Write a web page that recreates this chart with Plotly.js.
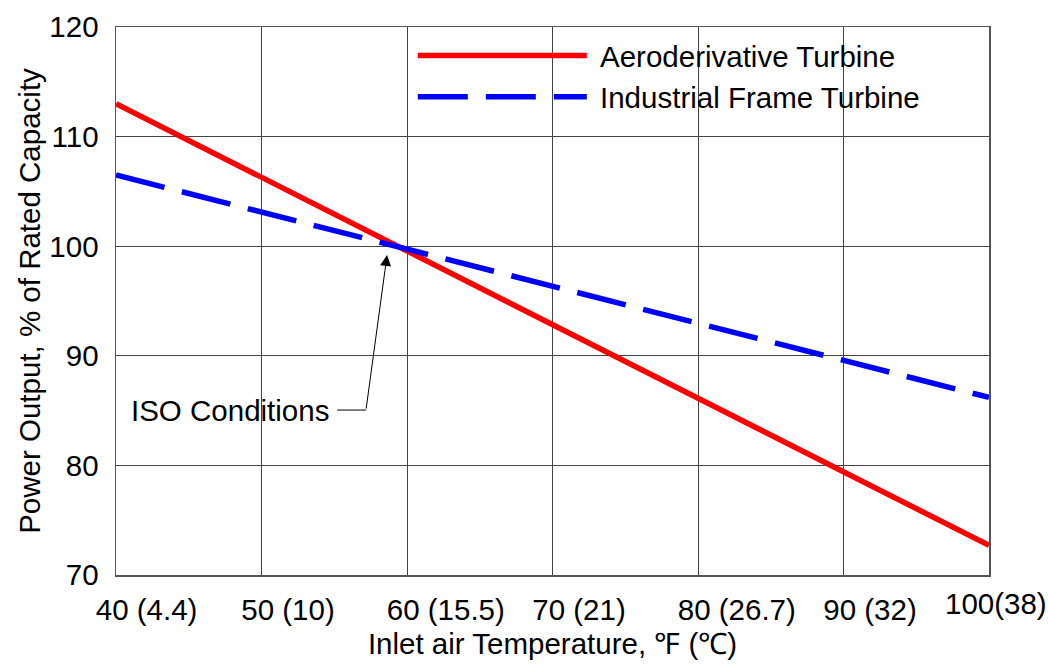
<!DOCTYPE html>
<html>
<head>
<meta charset="utf-8">
<script src="https://cdn.plot.ly/plotly-3.0.1.min.js"></script>
<style>html,body{margin:0;padding:0;background:#fff;}#chart{width:1048px;height:664px;}</style>
</head>
<body>
<div id="chart"></div>
<script>
const tempsF = [40, 50, 60, 70, 80, 90, 100];
const tickLabels = ["40 (4.4)", "50 (10)", "60 (15.5)", "70 (21)", "80 (26.7)", "90 (32)", "100(38)"];
const aeroderivative = [113.0, 106.3, 99.5, 92.8, 86.2, 79.4, 72.7];
const industrialFrame = [106.5, 103.1, 99.7, 96.3, 93.0, 89.6, 86.2];
const yTicks = [70, 80, 90, 100, 110, 120];

const FONT = "Liberation Sans, Arial, Helvetica, sans-serif";
const FS = 29.5;

const traces = [
  {x: tempsF, y: aeroderivative, name: "\u00a0Aeroderivative Turbine", mode: "lines",
   xaxis: "x", yaxis: "y",
   line: {color: "#ff0000", width: 5.5}},
  {x: tempsF, y: industrialFrame, name: "\u00a0Industrial Frame Turbine", mode: "lines",
   xaxis: "x2", yaxis: "y",
   line: {color: "#0000ff", width: 5.5, dash: "50px,18px"}}
];

const lastIdx = tempsF.length - 1;
const tickfont = {family: FONT, size: FS, color: "#000"};

const layout = {
  width: 1048, height: 664,
  margin: {l: 116, r: 59, t: 27, b: 89},
  paper_bgcolor: "#fff", plot_bgcolor: "#fff",
  font: {family: FONT, size: FS, color: "#000"},
  showlegend: true,
  legend: {x: 0.340, y: 0.995, xanchor: "left", yanchor: "top",
           bgcolor: "rgba(0,0,0,0)", borderwidth: 0, itemwidth: 169,
           font: {family: FONT, size: FS, color: "#000"}},
  xaxis: {range: [40, 100], tickvals: tempsF.slice(0, lastIdx), ticktext: tickLabels.slice(0, lastIdx),
          showgrid: true, gridcolor: "#444", gridwidth: 1,
          showline: true, linecolor: "#555", linewidth: 1.5, mirror: true,
          ticks: "", zeroline: false, ticklabelposition: "outside right",
          ticklabelshift: -21, ticklabelstandoff: 8, ticklabeloverflow: "allow",
          tickfont: tickfont,
          title: {text: "Inlet air Temperature, ℉ (℃)", standoff: 8,
                  font: {family: FONT, size: FS, color: "#000"}}},
  xaxis2: {range: [40, 100], overlaying: "x", anchor: "y", side: "bottom",
           tickvals: [tempsF[lastIdx]], ticktext: [tickLabels[lastIdx]],
           showgrid: false, showline: false, zeroline: false, ticks: "",
           ticklabelposition: "outside right", ticklabelshift: -44,
           ticklabelstandoff: 8, ticklabeloverflow: "allow", tickfont: tickfont},
  yaxis: {range: [70, 120], tickvals: yTicks,
          showgrid: true, gridcolor: "#444", gridwidth: 1,
          showline: true, linecolor: "#555", linewidth: 1.5, mirror: true,
          ticks: "", zeroline: false, ticklabelstandoff: 10,
          tickfont: tickfont,
          title: {text: "Power Output, % of Rated Capacity", standoff: 0,
                  font: {family: FONT, size: FS, color: "#000"}}},
  shapes: [
    {type: "rect", xref: "x", yref: "y", x0: 60.08, x1: 100, y0: 110.08, y1: 120,
     fillcolor: "#fff", line: {width: 0}, layer: "below"},
    {type: "rect", xref: "x", yref: "y", x0: 40, x1: 59.92, y0: 80.08, y1: 89.92,
     fillcolor: "#fff", line: {width: 0}, layer: "below"},
    {type: "line", xref: "x", yref: "y", x0: 55.2, x1: 57.18, y0: 85.05, y1: 85.05,
     line: {color: "#000", width: 1}}
  ],
  annotations: [
    {x: 54.75, y: 85.05, xref: "x", yref: "y", xanchor: "right", yanchor: "middle",
     text: "ISO Conditions", showarrow: false,
     font: {family: FONT, size: FS, color: "#000"}},
    {x: 58.63, y: 99.2, xref: "x", yref: "y", ax: 57.18, ay: 85.05, axref: "x", ayref: "y",
     text: "", showarrow: true, arrowhead: 2, arrowsize: 2.2, arrowwidth: 1,
     arrowcolor: "#000", standoff: 0}
  ]
};

Plotly.newPlot("chart", traces, layout, {displayModeBar: false, staticPlot: true});
</script>
</body>
</html>
